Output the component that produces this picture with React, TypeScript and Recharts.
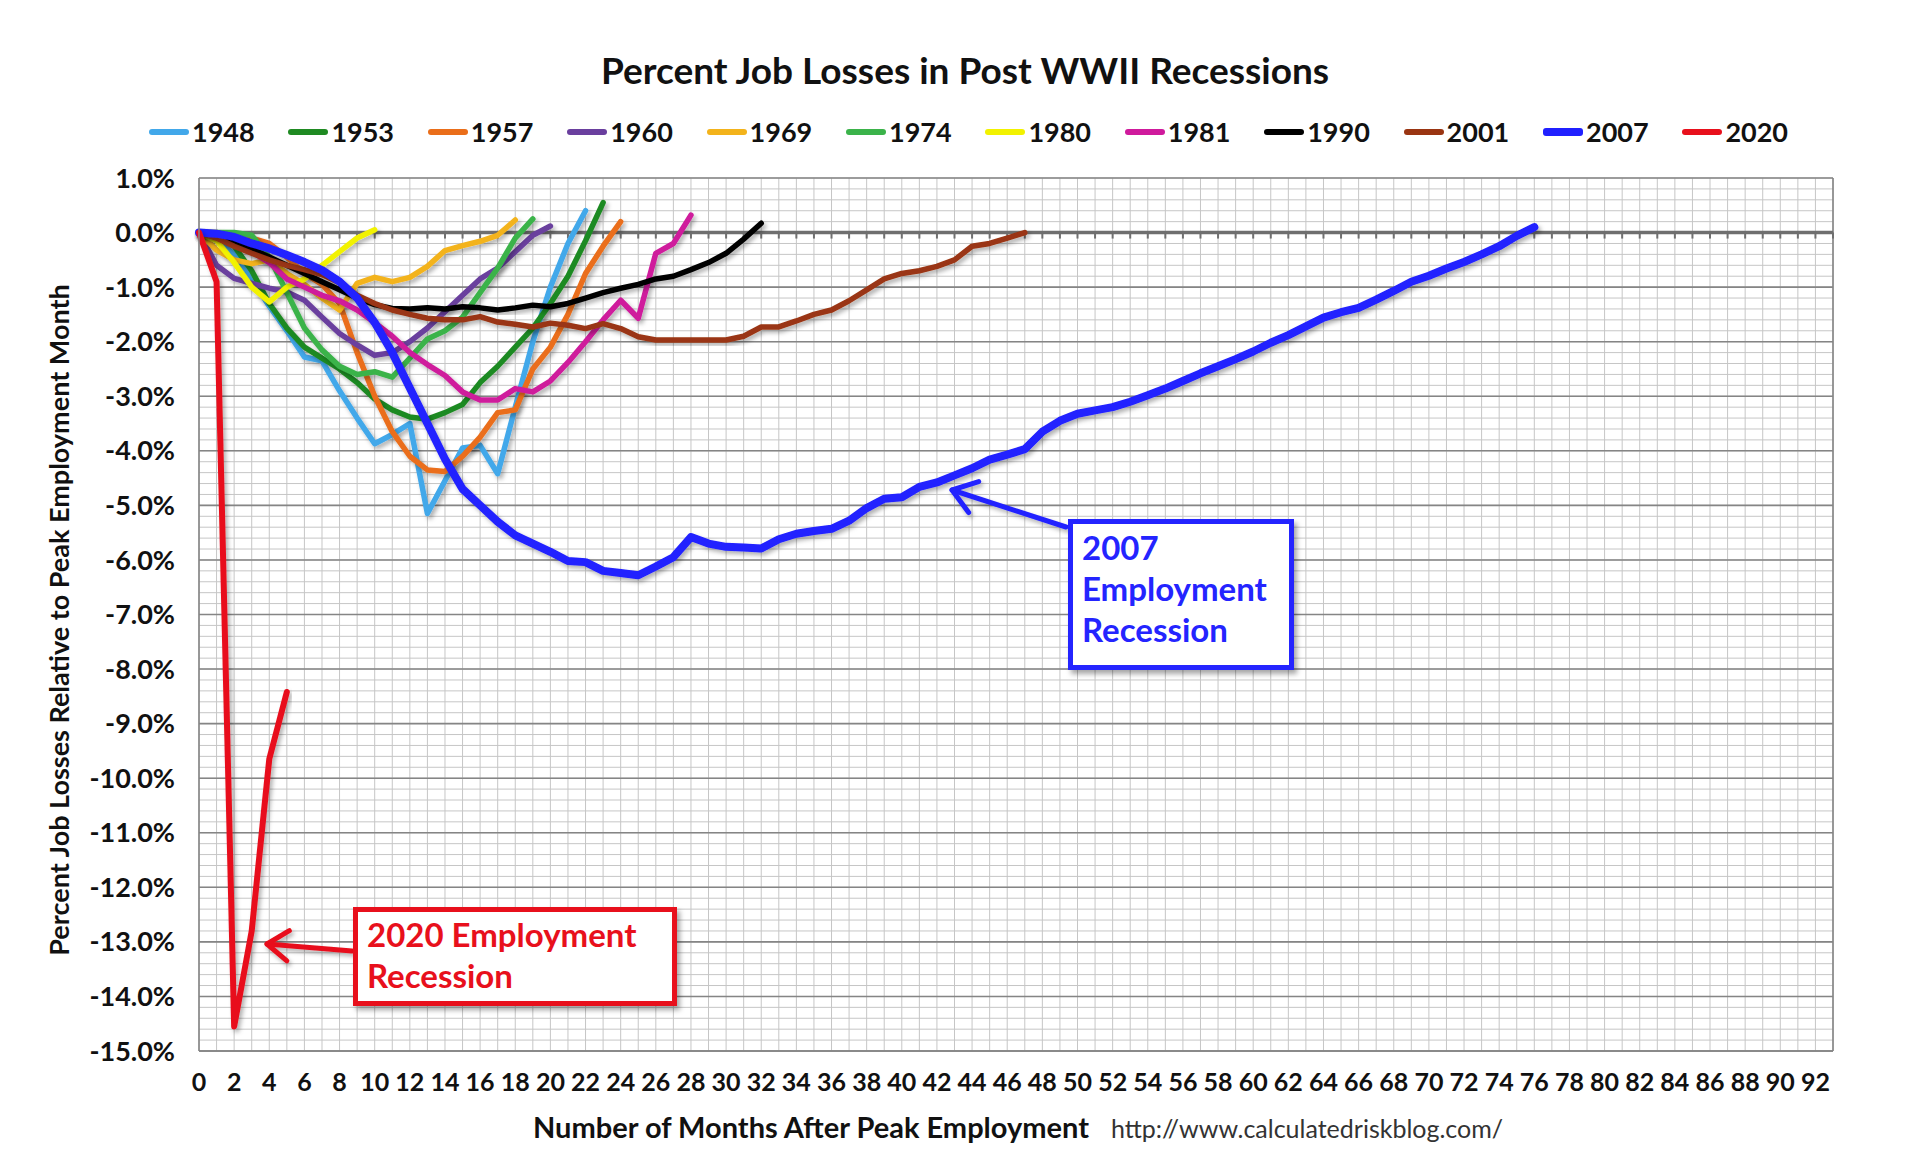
import { LineChart, Line, XAxis, YAxis, CartesianGrid, ReferenceLine } from "recharts";

// recession start years, in legend order
const years = ["1948", "1953", "1957", "1960", "1969", "1974", "1980", "1981", "1990", "2001", "2007", "2020"];

// percent change in payroll employment vs. peak month, index = months after peak
const s1948 = [0, -0.1, -0.4, -0.85, -1.35, -1.8, -2.28, -2.35, -2.9, -3.4, -3.87, -3.7, -3.5, -5.15, -4.55, -3.95, -3.9, -4.42, -3.2, -2.0, -1.0, -0.2, 0.4];
const s1953 = [0, -0.05, -0.25, -0.7, -1.3, -1.75, -2.1, -2.3, -2.5, -2.75, -3.05, -3.25, -3.38, -3.42, -3.3, -3.15, -2.75, -2.45, -2.1, -1.75, -1.3, -0.8, -0.15, 0.55];
const s1957 = [0, 0, -0.05, -0.1, -0.2, -0.45, -0.75, -0.95, -1.3, -2.2, -3.0, -3.65, -4.1, -4.35, -4.38, -4.1, -3.75, -3.3, -3.25, -2.5, -2.1, -1.5, -0.75, -0.25, 0.2];
const s1960 = [0, -0.6, -0.84, -0.93, -1.02, -1.09, -1.24, -1.55, -1.85, -2.06, -2.25, -2.2, -2.0, -1.75, -1.45, -1.15, -0.85, -0.65, -0.35, -0.05, 0.12];
const s1969 = [0, -0.32, -0.5, -0.57, -0.5, -0.75, -0.95, -1.2, -1.42, -0.93, -0.82, -0.9, -0.82, -0.62, -0.33, -0.24, -0.16, -0.05, 0.23];
const s1974 = [0, 0, 0, -0.05, -0.45, -1.1, -1.75, -2.15, -2.45, -2.6, -2.55, -2.65, -2.3, -1.95, -1.8, -1.55, -1.1, -0.65, -0.1, 0.25];
const s1980 = [0, -0.15, -0.55, -1.0, -1.27, -1.0, -0.85, -0.6, -0.35, -0.1, 0.05];
const s1981 = [0, -0.05, -0.15, -0.35, -0.55, -0.85, -1.0, -1.15, -1.25, -1.42, -1.65, -1.9, -2.2, -2.42, -2.62, -2.92, -3.07, -3.07, -2.86, -2.92, -2.72, -2.38, -2.0, -1.6, -1.24, -1.57, -0.38, -0.2, 0.32];
const s1990 = [0, -0.05, -0.15, -0.3, -0.45, -0.6, -0.75, -0.9, -1.05, -1.2, -1.32, -1.39, -1.4, -1.38, -1.4, -1.36, -1.38, -1.42, -1.38, -1.33, -1.36, -1.3, -1.2, -1.1, -1.02, -0.95, -0.85, -0.8, -0.68, -0.55, -0.38, -0.12, 0.17];
const s2001 = [0, -0.1, -0.25, -0.38, -0.5, -0.6, -0.68, -0.77, -0.92, -1.15, -1.3, -1.42, -1.5, -1.57, -1.6, -1.6, -1.54, -1.64, -1.68, -1.73, -1.66, -1.7, -1.76, -1.67, -1.76, -1.91, -1.97, -1.97, -1.97, -1.97, -1.97, -1.9, -1.73, -1.73, -1.62, -1.5, -1.42, -1.25, -1.05, -0.85, -0.75, -0.7, -0.62, -0.5, -0.25, -0.2, -0.1, 0.0];
const s2007 = [0, -0.02, -0.08, -0.2, -0.29, -0.41, -0.54, -0.69, -0.9, -1.2, -1.65, -2.2, -2.85, -3.5, -4.15, -4.7, -5.0, -5.3, -5.55, -5.7, -5.85, -6.02, -6.04, -6.2, -6.24, -6.28, -6.12, -5.95, -5.58, -5.7, -5.76, -5.77, -5.79, -5.62, -5.52, -5.47, -5.43, -5.28, -5.05, -4.88, -4.85, -4.66, -4.58, -4.45, -4.32, -4.16, -4.07, -3.97, -3.65, -3.45, -3.32, -3.26, -3.2, -3.1, -2.98, -2.86, -2.72, -2.58, -2.45, -2.32, -2.18, -2.02, -1.88, -1.72, -1.56, -1.46, -1.38, -1.23, -1.07, -0.9, -0.79, -0.66, -0.54, -0.4, -0.25, -0.06, 0.1];
const s2020 = [0, -0.9, -14.55, -12.8, -9.65, -8.42];

const seriesValues = [s1948, s1953, s1957, s1960, s1969, s1974, s1980, s1981, s1990, s2001, s2007, s2020];
const colors = ["#42a8ea", "#1f8a22", "#ea6e1a", "#6a3f9e", "#f3b31b", "#3bb34a", "#f2f200", "#cf1a9c", "#000000", "#9a3512", "#2020ff", "#e8101c"];
const widths = [5.5, 5.5, 5.5, 5.5, 5.5, 5.5, 5.5, 5.5, 5.5, 5.5, 8, 6];

const monthCount = 94; // 0..93 on the category axis
const xTicks = [0, 2, 4, 6, 8, 10, 12, 14, 16, 18, 20, 22, 24, 26, 28, 30, 32, 34, 36, 38, 40, 42, 44, 46, 48, 50, 52, 54, 56, 58, 60, 62, 64, 66, 68, 70, 72, 74, 76, 78, 80, 82, 84, 86, 88, 90, 92];
const yTicks = [1, 0, -1, -2, -3, -4, -5, -6, -7, -8, -9, -10, -11, -12, -13, -14, -15];

const months = Array.from({ length: monthCount }, (_, i) => i);
const minorY: number[] = [];
for (let k = -75; k <= 5; k++) minorY.push(k / 5);

const rows = months.map((m) => {
  const row: Record<string, number> = { month: m };
  years.forEach((y, i) => {
    if (m < seriesValues[i].length) row["y" + y] = seriesValues[i][m];
  });
  return row;
});

const FONT = "Lato, 'Open Sans', sans-serif";

// plot box (px)
const W = 1920;
const H = 1156;
const PLOT_L = 199;
const PLOT_R = 1833;
const PLOT_T = 178;
const PLOT_B = 1051;

// same linear mapping as the axes, used only for the minor grid
const gridY = minorY.map((v) => PLOT_T + ((1 - v) / 16) * (PLOT_B - PLOT_T));
const gridX = months.map((m) => PLOT_L + (m / 93) * (PLOT_R - PLOT_L));

const arrowHead = (x1: number, y1: number, x2: number, y2: number, len: number) => {
  const a = Math.atan2(y2 - y1, x2 - x1);
  const s = 0.62;
  const p1 = [x2 - len * Math.cos(a - s), y2 - len * Math.sin(a - s)];
  const p2 = [x2 - len * Math.cos(a + s), y2 - len * Math.sin(a + s)];
  return `${p1[0]},${p1[1]} ${x2},${y2} ${p2[0]},${p2[1]}`;
};

const App = () => {
  return (
    <div style={{ position: "absolute", left: 0, top: 0, width: W, height: H, background: "#fff", fontFamily: FONT, overflow: "hidden" }}>
      <div style={{ position: "absolute", left: 0, width: 1930, top: 47, height: 46, lineHeight: "46px", textAlign: "center", fontSize: 37, fontWeight: 700, color: "#111" }}>
        Percent Job Losses in Post WWII Recessions
      </div>

      {/* legend */}
      {years.map((y, i) => (
        <div key={y} style={{ position: "absolute", left: 149 + i * 139.4, top: 116, height: 32, display: "flex", alignItems: "center" }}>
          <span style={{ display: "inline-block", width: 40, height: i === 10 ? 8 : 6, borderRadius: 3, background: colors[i], marginRight: 3 }} />
          <span style={{ fontSize: 27, fontWeight: 700, color: "#111", lineHeight: "32px" }}>{y}</span>
        </div>
      ))}

      <LineChart width={W} height={H} data={rows} margin={{ top: PLOT_T, right: W - PLOT_R, bottom: 45, left: 79 }}>
        <defs>
          <filter id="lineShadow" x="-5%" y="-5%" width="110%" height="110%">
            <feDropShadow dx="2.5" dy="3" stdDeviation="2" floodColor="#000" floodOpacity="0.3" />
          </filter>
        </defs>
        <CartesianGrid stroke="#c6c6c6" strokeWidth={1} horizontalPoints={gridY} verticalPoints={gridX} />
        <CartesianGrid stroke="#858585" strokeWidth={1.6} vertical={false} />
        <XAxis
          dataKey="month"
          type="number"
          domain={[0, 93]}
          ticks={xTicks}
          interval={0}
          height={60}
          axisLine={{ stroke: "#858585", strokeWidth: 1.6 }}
          tickLine={false}
          tickSize={0}
          tickMargin={22}
          tick={{ fill: "#111", fontSize: 25, fontWeight: 700, fontFamily: FONT }}
        />
        <YAxis
          type="number"
          domain={[-15, 1]}
          ticks={yTicks}
          interval={0}
          width={120}
          axisLine={{ stroke: "#858585", strokeWidth: 1.6 }}
          tickLine={false}
          tickSize={0}
          tickMargin={24}
          tickFormatter={(v: number) => v.toFixed(1) + "%"}
          tick={{ fill: "#111", fontSize: 27, fontWeight: 700, fontFamily: FONT }}
        />
        <ReferenceLine x={93} stroke="#858585" strokeWidth={1.6} />
        <ReferenceLine y={0} stroke="#6f6f6f" strokeWidth={3.5} />
        {months.map((m) => (
          <ReferenceLine
            key={"t" + m}
            segment={[
              { x: m, y: 0 },
              { x: m, y: -0.11 },
            ]}
            stroke="#6f6f6f"
            strokeWidth={2}
          />
        ))}
        {years.map((y, i) => (
          <Line
            key={y}
            type="linear"
            dataKey={"y" + y}
            stroke={colors[i]}
            strokeWidth={widths[i]}
            strokeLinejoin="round"
            strokeLinecap="round"
            dot={false}
            activeDot={false}
            filter="url(#lineShadow)"
            isAnimationActive={false}
          />
        ))}
      </LineChart>

      {/* axis titles */}
      <div style={{ position: "absolute", left: 59 - 450, top: 620 - 17, width: 900, height: 34, lineHeight: "34px", textAlign: "center", transform: "rotate(-90deg)", fontSize: 27, fontWeight: 700, color: "#111" }}>
        Percent Job Losses Relative to Peak Employment Month
      </div>
      <div style={{ position: "absolute", left: 533, top: 1109, height: 36, lineHeight: "36px", whiteSpace: "nowrap" }}>
        <span style={{ fontSize: 29, fontWeight: 700, color: "#111" }}>Number of Months After Peak Employment</span>
        <span style={{ fontSize: 25, fontWeight: 400, color: "#333", marginLeft: 22 }}>http://www.calculatedriskblog.com/</span>
      </div>

      {/* annotations */}
      <svg width={W} height={H} style={{ position: "absolute", left: 0, top: 0, pointerEvents: "none" }}>
        <defs>
          <filter id="arrowShadow" x="-20%" y="-50%" width="140%" height="200%">
            <feDropShadow dx="2" dy="3" stdDeviation="2" floodColor="#000" floodOpacity="0.3" />
          </filter>
        </defs>
        <g filter="url(#arrowShadow)" fill="none" strokeLinecap="round" strokeLinejoin="round">
          <line x1={1066} y1={527} x2={952} y2={490} stroke="#2424ff" strokeWidth={5} />
          <polyline points={arrowHead(1066, 527, 952, 490, 28)} stroke="#2424ff" strokeWidth={5} />
          <line x1={352} y1={951} x2={267} y2={944} stroke="#e8101c" strokeWidth={5} />
          <polyline points={arrowHead(352, 951, 267, 944, 26)} stroke="#e8101c" strokeWidth={5} />
        </g>
      </svg>
      <div style={{ position: "absolute", left: 1068, top: 519, width: 226, height: 151, boxSizing: "border-box", border: "5px solid #2424ff", background: "#fff", boxShadow: "3px 4px 5px rgba(0,0,0,0.35)", padding: "3px 0 0 9px", color: "#2424ff", fontSize: 33, fontWeight: 700, lineHeight: "41px" }}>
        2007
        <br />
        Employment
        <br />
        Recession
      </div>
      <div style={{ position: "absolute", left: 353, top: 907, width: 324, height: 99, boxSizing: "border-box", border: "5px solid #e8101c", background: "#fff", boxShadow: "3px 4px 5px rgba(0,0,0,0.35)", padding: "2px 0 0 9px", color: "#e8101c", fontSize: 33, fontWeight: 700, lineHeight: "41px" }}>
        2020 Employment
        <br />
        Recession
      </div>
    </div>
  );
};

export default App;
